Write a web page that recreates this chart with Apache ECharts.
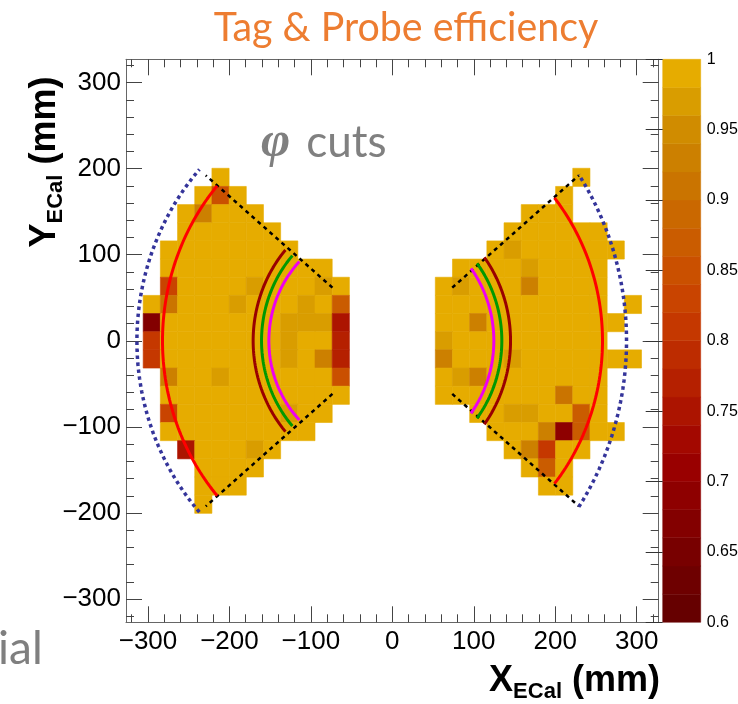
<!DOCTYPE html>
<html><head><meta charset="utf-8">
<script src="https://cdn.jsdelivr.net/npm/echarts@6/dist/echarts.min.js"></script>
<style>html,body{margin:0;padding:0;background:#fff}#c{width:738px;height:704px}</style>
</head><body><div id="c"></div>
<script>
// ---------------- data ----------------
const axisMin = -327, axisMax = 327, nBins = 31;
const majorTicks = [-300, -200, -100, 0, 100, 200, 300];
const minorTicks = [-320, -280, -260, -240, -220, -180, -160, -140, -120, -80, -60, -40, -20,
                    20, 40, 60, 80, 120, 140, 160, 180, 220, 240, 260, 280, 320];
const effMin = 0.6, effMax = 1.0, effStep = 0.02, effTickStep = 0.05;

// efficiency levels (code -> efficiency)
const levelCodes = { '9': 0.99, 'a': 0.97, 'b': 0.93, 'c': 0.91, 'd': 0.87, 'e': 0.85,
                     'f': 0.83, 'g': 0.81, 'h': 0.77, 'i': 0.75, 'k': 0.69, 'm': 0.67 };
// rows from top (y = +327) to bottom, 31 columns from x = -327; '.' = empty bin
const effRows = [
  '................' + '...............',
  '................' + '...............',
  '................' + '...............',
  '................' + '...............',
  '................' + '...............',
  '................' + '...............',
  '.....9..........' + '..........9....',
  '....9e9.........' + '.........9.....',
  '...9b999........' + '.......999.....',
  '...999999.......' + '......999999...',
  '..99999999......' + '.....9a999999..',
  '..9999999999....' + '...9999a9999...',
  '..f9999a999a9...' + '..9a999b9999...',
  '.9c999a999a9d...' + '..9999999999.9.',
  '.m9999999aaai...' + '..99b99999999..',
  '.g9999999a99h...' + '..a999999999...',
  '.g9999999a9bh...' + '..b999a9999999.',
  '..b99a999999e...' + '..9ab9999999...',
  '..99999999999...' + '..9999999c99...',
  '..f999999a99....' + '....99aa99d9...',
  '..999999999.....' + '.....999bkd99..',
  '...i999a9.......' + '......9bg99....',
  '....9999........' + '.......9d9.....',
  '....999.........' + '........99.....',
  '....9...........' + '...............',
  '................' + '...............',
  '................' + '...............',
  '................' + '...............',
  '................' + '...............',
  '................' + '...............',
  '................' + '...............'
];
// colour palette, bottom (0.60) to top (1.00), one colour per 0.02 band
const paletteColors = ['#660000', '#6e0000', '#780000', '#830000', '#8e0000', '#990000',
  '#a30800', '#ac1400', '#b52000', '#bd2c00', '#c53800', '#c94400', '#ca5000', '#ca5c00',
  '#ca6800', '#ca7400', '#cc8000', '#d08c00', '#d99d00', '#e6ac00'];

// cut contours: circular arcs (centre on y=0), side -1 = left, +1 = right
const arcCentreX    = [-17.1, -59.5, -7.2, -5.1, -10.65, -12.25, -19.7, -15.8, -13.7, -17.2];
const arcRadius     = [296.5, 347.0, 275.0, 263.1, 160.25, 148.35, 131.9, 140.4, 148.1, 162.3];
const arcHalfHeight = [199, 193, 180, 166, 105.5, 99, 92, 84.2, 90, 97];
const arcSide       = [-1, 1, -1, 1, -1, -1, -1, 1, 1, 1];
// phi cut lines (degrees) and their radial extent (mm)
const cutAngles = [40, -40, 140, 220];
const cutRadii = [96, 299];

// ---------------- styles ----------------
const arcColors = ['#34349a', '#34349a', '#ff0000', '#ff0000', '#990000', '#009900', '#ee00ee', '#ee00ee', '#009900', '#990000'];
const arcTypes  = ['dotted', 'dotted', 'solid', 'solid', 'solid', 'solid', 'solid', 'solid', 'solid', 'solid'];
const arcWidths = [3.5, 3.5, 3, 3, 3, 3, 3, 3, 3, 3];

// ---------------- build ----------------
const binW = (axisMax - axisMin) / nBins;
const cells = [];
effRows.forEach((row, j) => {
  for (let i = 0; i < row.length; i++) {
    const ch = row[i];
    if (ch === '.') continue;
    cells.push([axisMin + (i + 0.5) * binW, axisMax - (j + 0.5) * binW, levelCodes[ch]]);
  }
});
const bands = paletteColors.map((c, k) => {
  const lo = +(effMin + k * effStep).toFixed(4);
  return [0.5, lo, +(lo + effStep / 2).toFixed(4)];
});
const pieces = paletteColors.map((c, k) => ({
  gte: +(effMin + k * effStep).toFixed(4),
  lt: +(effMin + (k + 1) * effStep).toFixed(4) + (k === paletteColors.length - 1 ? 0.001 : 0),
  color: c
}));

function arcPoints(k) {
  const cx = arcCentreX[k], r = arcRadius[k];
  const a = Math.asin(arcHalfHeight[k] / r);
  const pts = [];
  const N = 80;
  for (let n = 0; n <= N; n++) {
    const t = -a + 2 * a * n / N;
    const th = arcSide[k] < 0 ? Math.PI - t : t;
    pts.push([cx + r * Math.cos(th), r * Math.sin(th)]);
  }
  return pts;
}
function cutPoints(deg) {
  const th = deg * Math.PI / 180;
  return cutRadii.map(r => [r * Math.cos(th), r * Math.sin(th)]);
}

const fmt = v => (v < 0 ? '\u2212' + (-v) : String(v));
const tickColor = '#444';
const lineColor = '#666';
const labelFont = { fontFamily: 'Liberation Sans', fontSize: 26, color: '#000' };

function mkX(pos, major, labels) {
  return {
    type: 'value', gridIndex: 0, min: axisMin, max: axisMax, position: pos,
    axisLine: { show: major, onZero: false, lineStyle: { color: lineColor, width: 1 } },
    axisTick: { show: true, inside: true, length: major ? 16 : 8, customValues: major ? majorTicks : minorTicks,
                lineStyle: { color: tickColor, width: 1 } },
    axisLabel: labels ? Object.assign({ show: true, margin: 7, customValues: majorTicks, formatter: fmt }, labelFont) : { show: false },
    splitLine: { show: false }
  };
}
function mkY(pos, major, labels) {
  return {
    type: 'value', gridIndex: 0, min: axisMin, max: axisMax, position: pos,
    axisLine: { show: major, onZero: false, lineStyle: { color: lineColor, width: 1 } },
    axisTick: { show: true, inside: true, length: major ? 16 : 8, customValues: major ? majorTicks : minorTicks,
                lineStyle: { color: tickColor, width: 1 } },
    axisLabel: labels ? Object.assign({ show: true, margin: 5, customValues: majorTicks, formatter: fmt }, labelFont) : { show: false },
    splitLine: { show: false }
  };
}

const series = [];
series.push({
  type: 'custom', xAxisIndex: 0, yAxisIndex: 0, data: cells, encode: { x: 0, y: 1 }, z: 2,
  renderItem: function (params, api) {
    const x = api.value(0), y = api.value(1);
    const p0 = api.coord([x - binW / 2, y + binW / 2]);
    const p1 = api.coord([x + binW / 2, y - binW / 2]);
    const col = api.visual('color');
    return { type: 'rect', shape: { x: p0[0], y: p0[1], width: p1[0] - p0[0], height: p1[1] - p0[1] },
             style: { fill: col, stroke: col, lineWidth: 0.6 } };
  }
});
series.push({
  type: 'custom', xAxisIndex: 4, yAxisIndex: 4, data: bands, encode: { x: 0, y: 1 }, z: 2,
  renderItem: function (params, api) {
    const lo = api.value(1);
    const p0 = api.coord([0, lo + effStep]);
    const p1 = api.coord([1, lo]);
    const col = api.visual('color');
    return { type: 'rect', shape: { x: p0[0], y: p0[1], width: p1[0] - p0[0], height: p1[1] - p0[1] },
             style: { fill: col, stroke: col, lineWidth: 0.5 } };
  }
});
cutAngles.forEach(a => series.push({
  type: 'line', xAxisIndex: 0, yAxisIndex: 0, data: cutPoints(a), symbol: 'none', z: 4, silent: true,
  lineStyle: { color: '#000', width: 2.5, type: [4, 4] }
}));
arcCentreX.forEach((c, k) => series.push({
  type: 'line', xAxisIndex: 0, yAxisIndex: 0, data: arcPoints(k), symbol: 'none', z: 5, silent: true,
  lineStyle: { color: arcColors[k], width: arcWidths[k], type: arcTypes[k] === 'dotted' ? [3.5, 3.5] : 'solid' }
}));

const richAxis = {
  a: { fontFamily: 'Liberation Sans', fontWeight: 'bold', fontSize: 36, lineHeight: 40, verticalAlign: 'top', fill: '#000' },
  b: { fontFamily: 'Liberation Sans', fontWeight: 'bold', fontSize: 22, lineHeight: 16, verticalAlign: 'bottom', fill: '#000' }
};

const option = {
  animation: false,
  backgroundColor: '#fff',
  grid: [
    { left: 126, top: 59.3, width: 532.7, height: 563, containLabel: false, outerBoundsMode: 'none' },
    { left: 662.7, top: 59.3, width: 38, height: 563, containLabel: false, outerBoundsMode: 'none' }
  ],
  xAxis: [mkX('bottom', true, true), mkX('bottom', false, false), mkX('top', true, false), mkX('top', false, false),
    { type: 'value', gridIndex: 1, min: 0, max: 1, show: false }],
  yAxis: [mkY('left', true, true), mkY('left', false, false), mkY('right', true, false), mkY('right', false, false),
    { type: 'value', gridIndex: 1, min: effMin, max: effMax, interval: effTickStep, position: 'right', z: 10,
      axisLine: { show: false },
      axisTick: { show: true, inside: true, length: 17, lineStyle: { color: '#333', width: 1 } },
      axisLabel: { show: true, margin: 6, fontFamily: 'Liberation Sans', fontSize: 16, color: '#000' },
      splitLine: { show: false } }],
  visualMap: { type: 'piecewise', show: false, dimension: 2, seriesIndex: [0, 1], pieces: pieces },
  series: series,
  graphic: [
    { type: 'text', x: 406, y: 28, scaleX: 0.96, style: { text: 'Tag & Probe efficiency', fill: '#ed7d31',
      fontFamily: 'Lato', fontSize: 41, textAlign: 'center', textVerticalAlign: 'middle' } },
    { type: 'text', x: 261, y: 143, style: { text: '{p|\u03c6}{c|cuts}', textAlign: 'left', textVerticalAlign: 'middle',
      rich: { p: { fontFamily: 'Liberation Serif', fontStyle: 'italic', fontWeight: 'bold', fontSize: 50, fill: '#7f7f7f', padding: [0, 16, 0, 0] },
              c: { fontFamily: 'Lato', fontSize: 44, fill: '#808080' } } } },
    { type: 'text', x: -2, y: 649, style: { text: 'ial', fill: '#7f7f7f', fontFamily: 'Lato', fontSize: 46,
      textAlign: 'left', textVerticalAlign: 'middle' } },
    { type: 'text', x: 660, y: 663, style: { text: '{a|X}{b|ECal}{a| (mm)}', textAlign: 'right', textVerticalAlign: 'top', rich: richAxis } },
    { type: 'text', x: 27, y: 162, rotation: Math.PI / 2, style: { text: '{a|Y}{b|ECal}{a| (mm)}', textAlign: 'center', textVerticalAlign: 'top', rich: richAxis } }
  ]
};
const chart = echarts.init(document.getElementById('c'), null, { renderer: 'canvas' });
chart.setOption(option);
</script></body></html>
